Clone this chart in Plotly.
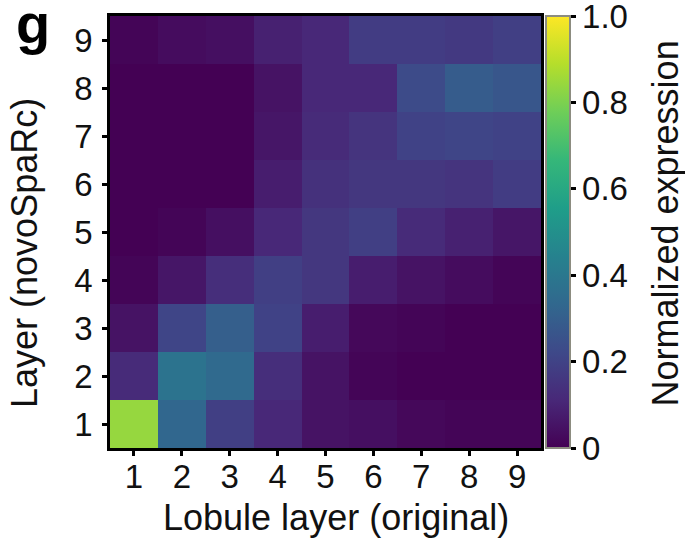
import plotly.graph_objects as go

# Lobule layers (original) on x, novoSpaRc layers on y
x_layers = [1, 2, 3, 4, 5, 6, 7, 8, 9]
y_layers = [1, 2, 3, 4, 5, 6, 7, 8, 9]

# Normalized expression, one list per novoSpaRc layer (row 1 at the bottom)
row1 = [0.84, 0.33, 0.19, 0.11, 0.05, 0.04, 0.02, 0.01, 0.01]
row2 = [0.12, 0.38, 0.34, 0.13, 0.05, 0.01, 0.00, 0.00, 0.00]
row3 = [0.05, 0.21, 0.30, 0.20, 0.08, 0.02, 0.01, 0.00, 0.00]
row4 = [0.01, 0.06, 0.13, 0.19, 0.16, 0.08, 0.05, 0.03, 0.01]
row5 = [0.00, 0.01, 0.04, 0.11, 0.16, 0.19, 0.12, 0.09, 0.06]
row6 = [0.00, 0.00, 0.00, 0.08, 0.14, 0.16, 0.16, 0.15, 0.18]
row7 = [0.00, 0.00, 0.00, 0.06, 0.12, 0.15, 0.20, 0.21, 0.20]
row8 = [0.00, 0.00, 0.00, 0.05, 0.11, 0.11, 0.23, 0.29, 0.27]
row9 = [0.01, 0.03, 0.04, 0.09, 0.11, 0.18, 0.18, 0.17, 0.19]

z_values = [row1, row2, row3, row4, row5, row6, row7, row8, row9]

cbar_tickvals = [0, 0.2, 0.4, 0.6, 0.8, 1.0]
cbar_ticktext = ["0", "0.2", "0.4", "0.6", "0.8", "1.0"]

FONT = "Liberation Sans, Arial, Helvetica, sans-serif"
TXT = "#111111"
TICK_SIZE = 33
TITLE_SIZE = 36

fig = go.Figure(
    go.Heatmap(
        x=x_layers,
        y=y_layers,
        z=z_values,
        zmin=0,
        zmax=1.0001,  # keeps the 1.0 colorbar tick inside the bar
        colorscale="Viridis",
        colorbar=dict(
            tickvals=cbar_tickvals,
            ticktext=cbar_ticktext,
            ticks="outside",
            ticklen=5,
            tickwidth=3,
            tickcolor="black",
            tickfont=dict(size=TICK_SIZE, family=FONT, color=TXT),
            ticklabeloverflow="allow",
            thickness=24,
            thicknessmode="pixels",
            len=1.0,
            lenmode="fraction",
            x=1.0116,
            xanchor="left",
            xpad=0,
            ypad=0,
            y=0.5,
            yanchor="middle",
            outlinecolor="#8c8c80",
            outlinewidth=2,
        ),
        hovertemplate="x=%{x}<br>y=%{y}<br>%{z}<extra></extra>",
    )
)

axis_common = dict(
    showline=True,
    linecolor="black",
    linewidth=2.5,
    mirror=True,
    ticks="outside",
    ticklen=5,
    tickwidth=3,
    tickcolor="black",
    showgrid=False,
    zeroline=False,
    tickfont=dict(size=TICK_SIZE, family=FONT, color=TXT),
    range=[0.5, 9.5],
    tickmode="array",
    tickvals=x_layers,
)

fig.update_xaxes(**axis_common, ticklabelstandoff=-7)
fig.update_yaxes(**axis_common, ticklabelstandoff=3)

# Axis titles
fig.add_annotation(
    text="Lobule layer (original)",
    xref="paper", yref="paper",
    x=0.525, y=-0.16,
    xanchor="center", yanchor="middle",
    showarrow=False,
    font=dict(size=TITLE_SIZE, family=FONT, color=TXT),
)
fig.add_annotation(
    text="Layer (novoSpaRc)",
    xref="paper", yref="paper",
    x=-0.2, y=0.451,
    xanchor="center", yanchor="middle",
    textangle=-90,
    showarrow=False,
    font=dict(size=TITLE_SIZE, family=FONT, color=TXT),
)
# Colorbar title
fig.add_annotation(
    text="Normalized expression",
    xref="paper", yref="paper",
    x=1.288, y=0.52,
    xanchor="center", yanchor="middle",
    textangle=-90,
    showarrow=False,
    font=dict(size=TITLE_SIZE, family=FONT, color=TXT),
)

# Panel letter
fig.add_annotation(
    text="<b>g</b>",
    xref="paper", yref="paper",
    x=-0.222, y=1.06,
    xanchor="left", yanchor="top",
    showarrow=False,
    font=dict(size=56, family=FONT, color="black"),
)

fig.update_layout(
    width=685,
    height=538,
    margin=dict(l=110, r=144, t=16, b=90),
    paper_bgcolor="white",
    plot_bgcolor="white",
    font=dict(family=FONT, color=TXT),
)

fig.write_html("out.html")
